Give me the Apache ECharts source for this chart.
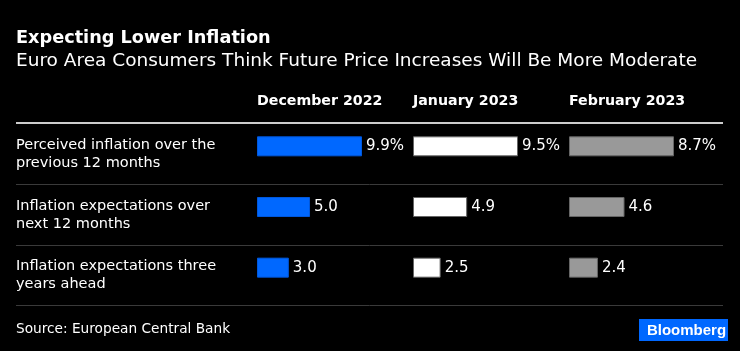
<!DOCTYPE html>
<html><head><meta charset="utf-8">
<script src="https://cdn.jsdelivr.net/npm/echarts@6/dist/echarts.min.js"></script>
<style>html,body{margin:0;padding:0;background:#000;}#c{width:740px;height:351px;}</style>
</head><body><div id="c"></div>
<script>
const rowLabels = ['Perceived inflation over the\nprevious 12 months','Inflation expectations over\nnext 12 months','Inflation expectations three\nyears ahead'];
const columns = ['December 2022','January 2023','February 2023'];
const dec2022 = [9.9, 5.0, 3.0];
const jan2023 = [9.5, 4.9, 2.5];
const feb2023 = [8.7, 4.6, 2.4];
const colValues = [dec2022, jan2023, feb2023];
const colColors = ['#0068ff','#ffffff','#999999'];
const colBorders = ['#0058dd','#666666','#666666'];

const font = '"DejaVu Sans", sans-serif';
const lefts = [257, 413, 569];
const barMaxW = 105;

const grids = [], xAxes = [], yAxes = [], series = [];
colValues.forEach((vals, i) => {
  grids.push({left: lefts[i], top: 116, width: barMaxW, height: 182});
  xAxes.push({type:'value', gridIndex:i, min:0, max:Math.max(...vals), show:false});
  yAxes.push({type:'category', gridIndex:i, data:rowLabels, inverse:true, show:false});
  series.push({type:'bar', xAxisIndex:i, yAxisIndex:i, data:vals, barWidth:20,
    itemStyle:{color:colColors[i], borderColor:colBorders[i], borderWidth:1},
    label:{show:true, position:'right', distance:4, color:'#ffffff', fontFamily:font, fontSize:15,
      formatter:p => p.dataIndex===0 ? p.value.toFixed(1)+'%' : p.value.toFixed(1)},
    animation:false});
});
// label-only grid for row labels (slightly lower than bars)
grids.push({left: 16, top: 124, width: 200, height: 182});
xAxes.push({type:'value', gridIndex:3, show:false});
yAxes.push({type:'category', gridIndex:3, data:rowLabels, inverse:true,
  position:'left', axisLine:{show:false}, axisTick:{show:false}, splitLine:{show:false},
  axisLabel:{show:true, inside:true, align:'left', margin:0, color:'#ffffff',
    fontFamily:font, fontSize:14.5, lineHeight:18}});

const graphics = [
  {type:'text', x:16, y:38, style:{text:'Expecting Lower Inflation', fill:'#fff', font:'bold 17.7px '+font, textVerticalAlign:'middle'}},
  {type:'text', x:16, y:61, style:{text:'Euro Area Consumers Think Future Price Increases Will Be More Moderate', fill:'#fff', font:'18.5px '+font, textVerticalAlign:'middle'}},
  {type:'line', shape:{x1:16,y1:123,x2:723,y2:123}, style:{stroke:'#cccccc', lineWidth:2}},
  {type:'line', shape:{x1:16,y1:184.5,x2:723,y2:184.5}, style:{stroke:'#3a3a3a', lineWidth:1}},
  {type:'line', shape:{x1:16,y1:245.5,x2:723,y2:245.5}, style:{stroke:'#3a3a3a', lineWidth:1}},
  {type:'line', shape:{x1:16,y1:305.5,x2:723,y2:305.5}, style:{stroke:'#3a3a3a', lineWidth:1}},
  {type:'text', x:16, y:329, style:{text:'Source: European Central Bank', fill:'#fff', font:'13.7px '+font, textVerticalAlign:'middle'}},
  {type:'rect', shape:{x:639,y:319,width:89,height:22}, style:{fill:'#0068ff'}},
  {type:'text', x:686.5, y:330.5, style:{text:'Bloomberg', fill:'#fff', font:'bold 15px "Liberation Sans", Arial, sans-serif', textAlign:'center', textVerticalAlign:'middle'}}
];
columns.forEach((c,i)=>{
  graphics.push({type:'text', x:lefts[i], y:101, style:{text:c, fill:'#fff', font:'bold 14.2px '+font, textVerticalAlign:'middle'}});
});

const chart = echarts.init(document.getElementById('c'));
chart.setOption({backgroundColor:'#000', animation:false, grid:grids, xAxis:xAxes, yAxis:yAxes, series:series, graphic:graphics});
</script></body></html>
